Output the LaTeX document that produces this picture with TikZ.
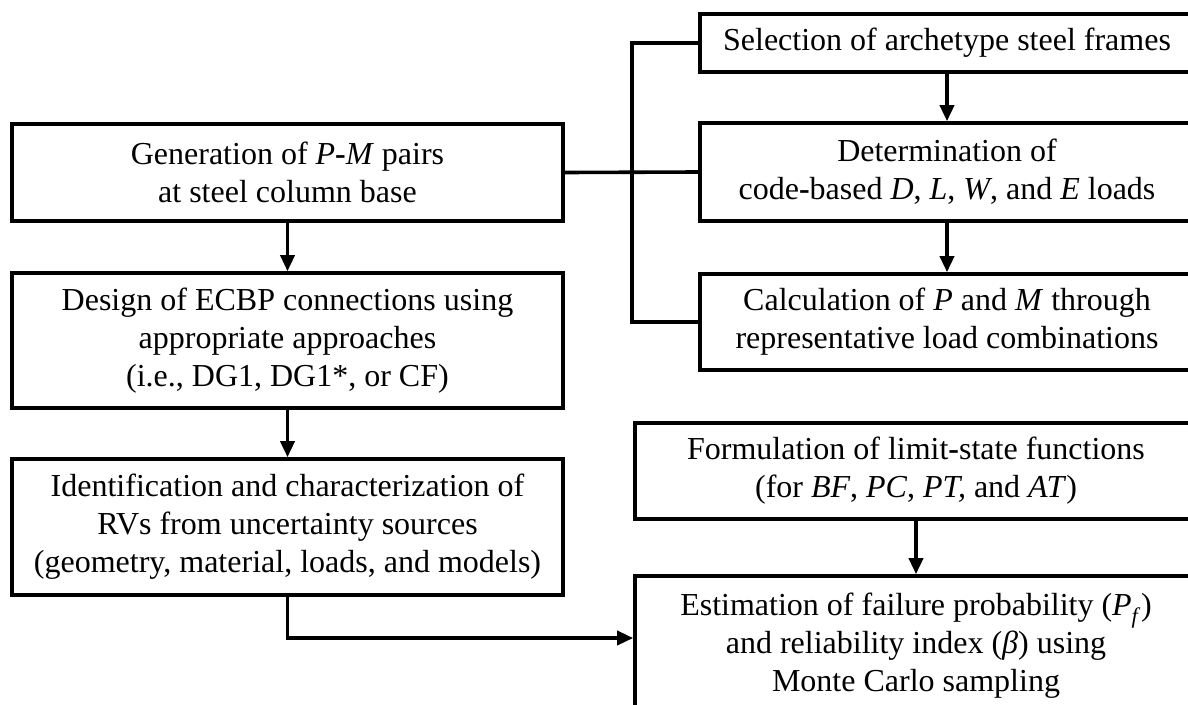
\documentclass[tikz,border=0pt]{standalone}
\usepackage{fontspec}
\setmainfont{Liberation Serif}
\usetikzlibrary{arrows.meta,calc}
\newcommand{\bh}{{\bfseries -}}
\begin{document}
\begin{tikzpicture}[x=1pt,y=-1pt,
  box/.style={draw,line width=3.6pt,rectangle,align=center,inner sep=0pt,
    font=\fontsize{32}{38}\selectfont},
  conn/.style={line width=3.6pt},
  arr/.style={line width=3.6pt,-{Triangle[width=14pt,length=16pt]}}]
\useasboundingbox (0,0) rectangle (1188,704);
\clip (0,0) rectangle (1188,704);
% left column
\node[box,minimum width=551pt,minimum height=97pt] (g) at (287.5,172.5)
  {Generation of \textit{P}\bh\textit{M} pairs\\at steel column base};
\node[box,minimum width=551pt,minimum height=135pt] (d) at (287.5,340.5)
  {Design of ECBP connections using\\appropriate approaches\\(i.e., DG1, DG1*, or CF)};
\node[box,minimum width=551pt,minimum height=136pt] (i) at (287.5,527)
  {Identification and characterization of\\RVs from uncertainty sources\\(geometry, material, loads, and models)};
% right column
\node[box,minimum width=494pt,minimum height=58pt] (s) at (947,43)
  {Selection of archetype steel frames};
\node[box,minimum width=494pt,minimum height=98pt] (b) at (947,172)
  {Determination of\\code\bh based \textit{D}, \textit{L}, \textit{W}, and \textit{E} loads};
\node[box,minimum width=494pt,minimum height=96pt] (c) at (947,322)
  {Calculation of \textit{P} and \textit{M} through\\representative load combinations};
\node[box,minimum width=562pt,minimum height=96pt] (f) at (916,471)
  {Formulation of limit\bh state functions\\(for \textit{BF}, \textit{PC}, \textit{PT,} and \textit{AT})};
\node[box,minimum width=562pt,minimum height=140pt] (e) at (916,646)
  {Estimation of failure probability (\textit{P}\textsubscript{\textit{f}})\\and reliability index (\textit{β}) using\\Monte Carlo sampling};
% connectors
\coordinate (bx) at (632,172);
\draw[conn] (g.east) -- (b.west);
\draw[conn] (s.west) -| (bx) |- (c.west);
\draw[arr] (s.south) -- (b.north);
\draw[arr] (b.south) -- (c.north);
\draw[arr] (g.south) -- (d.north);
\draw[arr] (d.south) -- (i.north);
\draw[arr] (f.south) -- (e.north);
\coordinate (corner) at (287.5,638);
\draw[arr] (i.south) -- (corner) -- (e.west |- corner);
\end{tikzpicture}
\end{document}
